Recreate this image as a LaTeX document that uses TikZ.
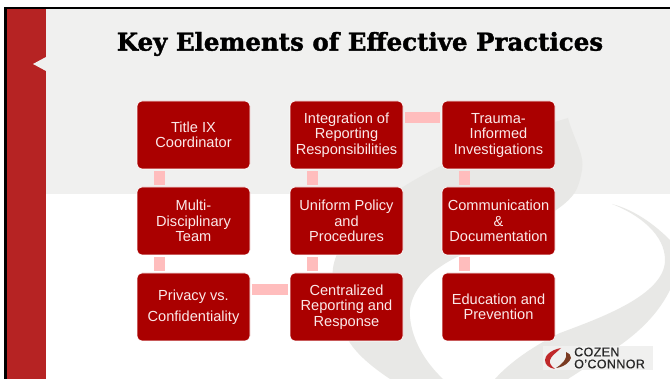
\documentclass[tikz,border=0pt]{standalone}
\usepackage{fontspec}
\setmainfont{Liberation Sans}
\newfontfamily\titlefont[BoldFeatures={FakeBold=1.5}]{DejaVu Serif}
\newfontfamily\logofont[LetterSpace=3,FakeBold=0.6]{Liberation Sans}
\definecolor{boxred}{HTML}{AA0000}
\definecolor{barred}{HTML}{B62323}
\definecolor{linkpink}{HTML}{FFBDBD}
\definecolor{panelgray}{HTML}{F0F0EF}
\definecolor{swooshgray}{HTML}{E8E8E6}
\definecolor{boxtext}{HTML}{FBE9E9}
\definecolor{logobrown}{HTML}{7A3B22}
\definecolor{logored}{HTML}{C0282A}
\tikzset{
  element/.style={draw=white,line width=0.6pt,fill=boxred,rounded corners=5pt,minimum width=113pt,minimum height=68pt,inner sep=0pt,align=center,text=boxtext,font=\fontsize{14.6}{15.5}\selectfont},
  link/.style={draw=linkpink,line width=11pt,shorten >=1.5pt,shorten <=1.5pt}
}
\begin{document}
\begin{tikzpicture}[x=1pt,y=-1pt]
\useasboundingbox (0,0) rectangle (670,379);
\fill [white] (0,0) rectangle (670,379);
\fill [panelgray] (7,9) rectangle (670,194.5);
\fill [swooshgray] (568,118) .. controls (574,140) and (585,155) .. (582,170) .. controls (580,182) and (577,190) .. (573,195) .. controls (550,225) and (470,245) .. (440,267) .. controls (420,280) and (408,300) .. (410,317) .. controls (412,340) and (425,362) .. (443,379) -- (390,379) .. controls (372,367) and (358,355) .. (350,343) .. controls (338,320) and (330,295) .. (333,268) .. controls (338,235) and (375,205) .. (403,187) .. controls (445,160) and (510,135) .. (568,118) -- cycle;
\fill [swooshgray] (612,204) .. controls (635,210) and (655,225) .. (670,240) -- (670,290) .. controls (655,320) and (630,340) .. (602,357) -- (568,379) -- (495,379) .. controls (510,362) and (535,345) .. (560,333) .. controls (600,318) and (665,295) .. (665,260) .. controls (665,235) and (640,215) .. (612,204) -- cycle;
\fill [barred] (7,9) rectangle (46,379);
\fill [panelgray] (46,57) -- (33,64) -- (46,71) -- cycle;
\fill [black] (4,7) rectangle (670,9);
\fill [black] (4,7) rectangle (7,379);
\node (heading) at (360,44) {\titlefont\bfseries\fontsize{24.5}{28}\selectfont Key Elements of Effective Practices};
\node [element] (titleix) at (193.5,135) {Title IX\\Coordinator};
\node [element] (team) at (193.5,221) {Multi-\\Disciplinary\\Team};
\node [element,font=\fontsize{14.6}{21}\selectfont] (privacy) at (193.5,307) {Privacy vs.\\Confidentiality};
\node [element] (integration) at (346.5,135) {Integration of\\Reporting\\Responsibilities};
\node [element] (policy) at (346.5,221) {Uniform Policy\\and\\Procedures};
\node [element] (reporting) at (346.5,307) {Centralized\\Reporting and\\Response};
\node [element] (trauma) at (498.5,135) {Trauma-\\Informed\\Investigations};
\node [element] (communication) at (498.5,221) {Communication\\\&\\Documentation};
\node [element] (education) at (498.5,307) {Education and\\Prevention};
\draw [link] ([xshift=-34pt]titleix.south) -- ([xshift=-34pt]team.north);
\draw [link] ([xshift=-34pt]team.south) -- ([xshift=-34pt]privacy.north);
\draw [link] ([yshift=17.5pt]privacy.east) -- ([yshift=17.5pt]reporting.west);
\draw [link] ([xshift=-34pt]reporting.north) -- ([xshift=-34pt]policy.south);
\draw [link] ([xshift=-34pt]policy.north) -- ([xshift=-34pt]integration.south);
\draw [link] ([yshift=17.5pt]integration.east) -- ([yshift=17.5pt]trauma.west);
\draw [link] ([xshift=-34pt]trauma.south) -- ([xshift=-34pt]communication.north);
\draw [link] ([xshift=-34pt]communication.south) -- ([xshift=-34pt]education.north);
\fill [panelgray] (543,346) rectangle (653,370);
\fill [logored] (561,348) .. controls (550,350) and (545,356) .. (545,360) .. controls (545,365) and (549,368) .. (555,369) .. controls (551,366) and (549,363) .. (550,360) .. controls (551,356) and (556,353) .. (561,348) -- cycle;
\fill [logobrown] (556,368) .. controls (564,367) and (570,362) .. (571,358) .. controls (571,355) and (569,353) .. (566,352) .. controls (567,355) and (566,358) .. (564,361) .. controls (562,364) and (559,366) .. (556,368) -- cycle;
\node [font=\logofont\fontsize{12.5}{12}\selectfont,text=black!85,align=left,inner sep=0pt,anchor=west] (logo) at (574,358) {COZEN\\O’CONNOR};
\end{tikzpicture}
\end{document}
